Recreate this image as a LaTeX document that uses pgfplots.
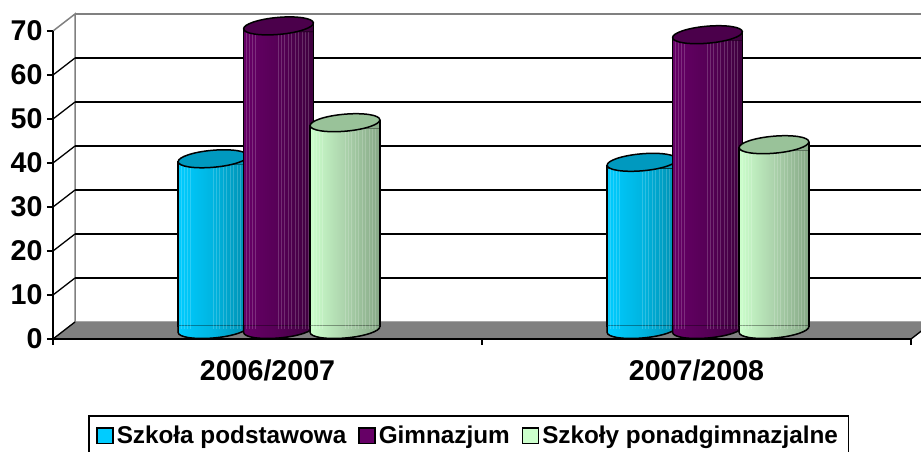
\documentclass[border=0pt]{standalone}
\usepackage{fontspec}
\setmainfont{Liberation Sans}
\usepackage{pgfplots}
\pgfplotsset{compat=1.18}
\definecolor{bl}{HTML}{00CCFF}\definecolor{blm}{HTML}{00B4E0}\definecolor{blr}{HTML}{008FB0}\definecolor{blt}{HTML}{0099BF}
\definecolor{pu}{HTML}{660066}\definecolor{pum}{HTML}{560056}\definecolor{pur}{HTML}{3E003E}\definecolor{put}{HTML}{4B004B}
\definecolor{gr}{HTML}{CCFFCC}\definecolor{grm}{HTML}{ABD2AB}\definecolor{grr}{HTML}{86A886}\definecolor{grt}{HTML}{99C299}
\definecolor{wall}{HTML}{808080}
\newcommand\lowarc{(-34.87pt,-3.05pt) .. controls (-34.46pt,-7.73pt) and (-18.52pt,-10.15pt) .. (0.74pt,-8.47pt) .. controls (20pt,-6.79pt) and (35.28pt,-1.63pt) .. (34.87pt,3.05pt)}
\newcommand\cylmarks[5]{%
\pgfdeclareplotmark{#1top}{%
  \path[left color=#2,right color=#4,middle color=#3] (-34.87pt,-3.05pt)--(-34.87pt,-6pt)--(34.87pt,-6pt)--(34.87pt,3.05pt)--cycle;
  \draw[black,line width=1.5pt] (-34.87pt,-3.05pt)--(-34.87pt,-6pt) (34.87pt,3.05pt)--(34.87pt,-6pt);
  \draw[black,line width=1.5pt,fill=#5] \lowarc .. controls (34.46pt,7.73pt) and (18.52pt,10.15pt) .. (-0.74pt,8.47pt) .. controls (-20pt,6.79pt) and (-35.28pt,1.63pt) .. (-34.87pt,-3.05pt) -- cycle;
}%
\pgfdeclareplotmark{#1bot}{%
  \path[left color=#2,right color=#4,middle color=#3] (-34.87pt,4pt)-- \lowarc --(34.87pt,4pt)--cycle;
  \draw[black,line width=1.5pt] (-34.87pt,4pt)-- \lowarc --(34.87pt,4pt);
}}
\cylmarks{bl}{bl}{blm}{blr}{blt}
\cylmarks{pu}{pu}{pum}{pur}{put}
\cylmarks{gr}{gr}{grm}{grr}{grt}
% #1 series, #2 x, #3 value, #4 horizontal shift (pt), #5 left, #6 middle, #7 right
\newcommand\cyl[7]{%
\addplot[forget plot,ybar,bar width=69.74pt,bar shift=0pt,draw=black,line width=1.5pt,left color=#5,right color=#7,middle color=#6,xshift=#4pt,yshift=12.5pt,y filter/.expression={y-1.36}] coordinates {(#2,#3)};
\addplot[forget plot,only marks,mark=#1bot,xshift=#4pt,yshift=9.5pt] coordinates {(#2,0)};
\pgfplotsinvokeforeach{-32,-29,-26,-23,0,3,6,10,13,17,20,24,27,30}{%
\addplot[forget plot,ycomb,no marks,white,opacity=0.18,line width=0.8pt,xshift=#4pt+##1pt,yshift=9.5pt] coordinates {(#2,#3)};}
\addplot[forget plot,only marks,mark=#1top,xshift=#4pt,yshift=9.5pt] coordinates {(#2,#3)};
}
\begin{document}
\begin{tikzpicture}
\path[use as bounding box,clip] (0pt,0pt) rectangle (921pt,452pt);
\begin{axis}[
  at={(53pt,113pt)},anchor=origin,
  scale only axis,width=858pt,height=308pt,
  xmin=0,xmax=2,ymin=0,ymax=70,clip=false,clip mode=individual,
  axis x line*=bottom,axis y line*=left,axis on top,
  axis line style={black,line width=1.5pt},
  xtick={0,1,2},xticklabels={2006/2007,2007/2008},x tick label as interval,
  ytick={0,10,...,70},
  tick style={black,line width=1.5pt},
  major tick length=6pt,
  tick align=outside,
  /pgf/number format/assume math mode=true,
  tick label style={font=\bfseries\fontsize{28.6}{30}\selectfont},
  x tick label style={yshift=-11pt},
  y tick label style={xshift=-1pt},
  legend image code/.code={\draw[#1,draw=black,line width=1.5pt] (0pt,-7.5pt) rectangle (16pt,8pt);},
  legend columns=3,
  legend style={at={(rel axis cs:0.0408,-0.2468)},anchor=north west,draw=black,line width=1.5pt,
    font=\bfseries\fontsize{24.3}{26}\selectfont,inner xsep=7.5pt,inner ysep=8.5pt,
    /tikz/every even column/.append style={column sep=9pt},
    nodes={inner xsep=3pt}},
]
% floor
\addplot[forget plot,fill=wall,draw=wall,line width=1pt] coordinates {(0,0)(2,0)(2.0513,3.864)(0.0513,3.864)} --cycle;
% walls
\addplot[forget plot,draw=wall,line width=1.5pt] coordinates {(0,70)(0.0513,73.864)(0.0513,3.864)};
\addplot[forget plot,draw=wall,line width=1.5pt] coordinates {(0.0513,73.864)(2.0513,73.864)};
% grid
\addplot[forget plot,black,line width=1.3pt,unbounded coords=jump] coordinates {
 (0.0513,13.864)(2.0513,13.864)(0,nan)
 (0.0513,23.864)(2.0513,23.864)(0,nan)
 (0.0513,33.864)(2.0513,33.864)(0,nan)
 (0.0513,43.864)(2.0513,43.864)(0,nan)
 (0.0513,53.864)(2.0513,53.864)(0,nan)
 (0.0513,63.864)(2.0513,63.864)};
\addplot[forget plot,black,line width=1.3pt,unbounded coords=jump] coordinates {
 (0,0)(0.0513,3.864)(0,nan)
 (0,10)(0.0513,13.864)(0,nan)
 (0,20)(0.0513,23.864)(0,nan)
 (0,30)(0.0513,33.864)(0,nan)
 (0,40)(0.0513,43.864)(0,nan)
 (0,50)(0.0513,53.864)(0,nan)
 (0,60)(0.0513,63.864)(0,nan)
 (2,0)(2.0513,3.864)};
% Szkola podstawowa
\cyl{bl}{0.5}{38.8}{-54.5}{bl}{blm}{blr}
\cyl{bl}{1.5}{38}{-54.5}{bl}{blm}{blr}
% Gimnazjum
\cyl{pu}{0.5}{69}{11}{pu}{pum}{pur}
\cyl{pu}{1.5}{67}{11}{pu}{pum}{pur}
% Szkoly ponadgimnazjalne
\cyl{gr}{0.5}{47}{77.5}{gr}{grm}{grr}
\cyl{gr}{1.5}{42}{77.5}{gr}{grm}{grr}
\addlegendimage{fill=bl}\addlegendentry{Szkoła podstawowa}
\addlegendimage{fill=pu}\addlegendentry{Gimnazjum}
\addlegendimage{fill=gr}\addlegendentry{Szkoły ponadgimnazjalne\hspace{8pt}}
\end{axis}
\end{tikzpicture}
\end{document}
